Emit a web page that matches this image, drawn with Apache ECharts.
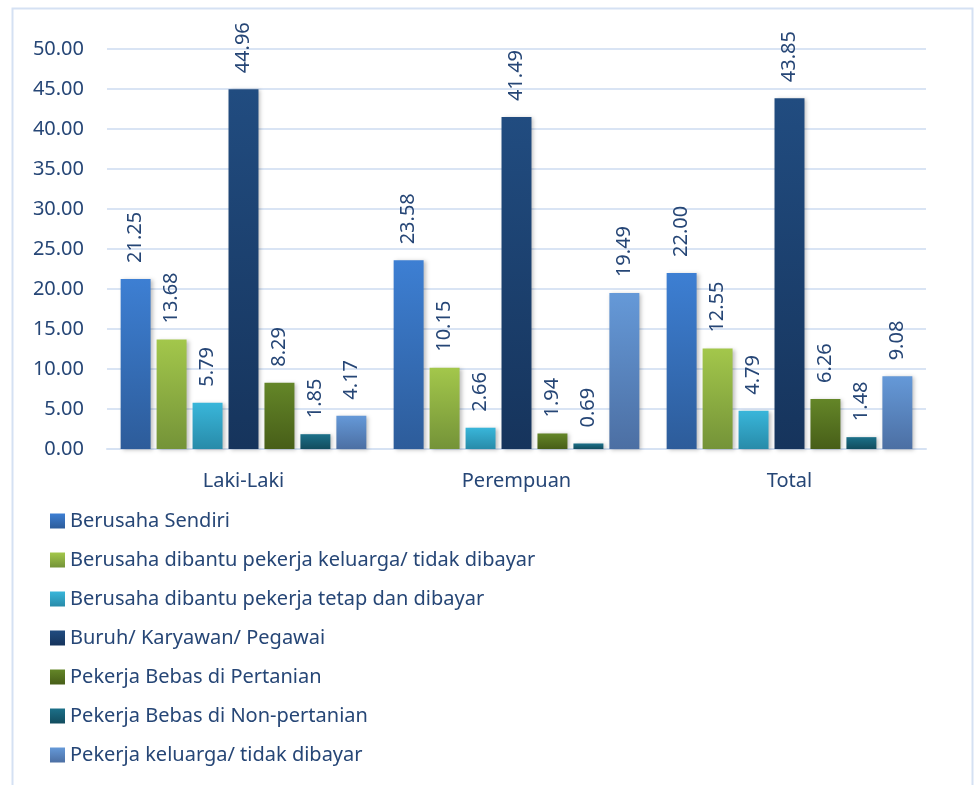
<!DOCTYPE html>
<html>
<head>
<meta charset="utf-8">
<script src="https://cdn.jsdelivr.net/npm/echarts@6/dist/echarts.min.js"></script>
<style>
	html, body { margin: 0; padding: 0; background: #fff; }
	#chart { width: 975px; height: 785px; }
</style>
</head>
<body>
<div id="chart"></div>
<script>
// kategori dan nilai
var categories = ['Laki-Laki', 'Perempuan', 'Total'];
var seriesNames = [
	'Berusaha Sendiri',
	'Berusaha dibantu pekerja keluarga/ tidak dibayar',
	'Berusaha dibantu pekerja tetap dan dibayar',
	'Buruh/ Karyawan/ Pegawai',
	'Pekerja Bebas di Pertanian',
	'Pekerja Bebas di Non-pertanian',
	'Pekerja keluarga/ tidak dibayar'
];
var berusahaSendiri = [21.25, 23.58, 22.00];
var dibantuKeluarga = [13.68, 10.15, 12.55];
var dibantuTetap = [5.79, 2.66, 4.79];
var buruh = [44.96, 41.49, 43.85];
var bebasPertanian = [8.29, 1.94, 6.26];
var bebasNonPertanian = [1.85, 0.69, 1.48];
var pekerjaKeluarga = [4.17, 19.49, 9.08];
var yTicks = [0, 5, 10, 15, 20, 25, 30, 35, 40, 45, 50];

var allValues = [berusahaSendiri, dibantuKeluarga, dibantuTetap, buruh, bebasPertanian, bebasNonPertanian, pekerjaKeluarga];
// warna atas / bawah gradien
var colorTop = ['#3d7fd3', '#a3c74b', '#39b6da', '#214c80', '#648628', '#1c7089', '#6599d8'];
var colorBottom = ['#2d5c9a', '#749338', '#288ba9', '#16345c', '#475e18', '#124c5e', '#4c6fa3'];

var textColor = '#264676';
var fontName = 'Noto Sans';

function grad(i) {
	return new echarts.graphic.LinearGradient(0, 0, 0, 1, [
		{ offset: 0, color: colorTop[i] },
		{ offset: 1, color: colorBottom[i] }
	]);
}

var series = [];
for (var i = 0; i < allValues.length; i++) {
	series.push({
		name: seriesNames[i],
		type: 'bar',
		data: allValues[i],
		barGap: '20%',
		barCategoryGap: '10%',
		itemStyle: {
			color: grad(i),
			shadowColor: 'rgba(0,0,0,0.25)',
			shadowBlur: 4,
			shadowOffsetX: 2,
			shadowOffsetY: 1
		},
		label: {
			show: true,
			position: 'top',
			rotate: 90,
			align: 'left',
			verticalAlign: 'middle',
			distance: 16,
			color: textColor,
			fontFamily: fontName,
			fontSize: 20,
			formatter: function(p) { return p.value.toFixed(2); }
		}
	});
}

var chart = echarts.init(document.getElementById('chart'));
var option = {
	animation: false,
	textStyle: { fontFamily: fontName },
	graphic: [{
		type: 'rect',
		shape: { x: 12.5, y: 8.5, width: 960, height: 800 },
		style: { fill: 'none', stroke: '#d5e1f3', lineWidth: 2 },
		silent: true
	}],
	grid: { left: 107, right: 49, top: 49, bottom: 336 },
	legend: {
		orient: 'vertical',
		left: 45,
		top: 506,
		itemWidth: 15,
		itemHeight: 15,
		itemGap: 19,
		icon: 'rect',
		data: seriesNames,
		textStyle: { color: textColor, fontSize: 20, lineHeight: 20, fontFamily: fontName }
	},
	xAxis: {
		type: 'category',
		data: categories,
		axisTick: { show: false },
		axisLine: { lineStyle: { color: '#d6e2f3', width: 2 } },
		axisLabel: { color: textColor, fontSize: 20, margin: 22, fontFamily: fontName }
	},
	yAxis: {
		type: 'value',
		min: yTicks[0],
		max: yTicks[yTicks.length - 1],
		interval: 5,
		axisLine: { show: false },
		axisTick: { show: false },
		splitLine: { lineStyle: { color: '#d9e4f4', width: 2 } },
		axisLabel: {
			color: textColor,
			fontSize: 20,
			margin: 23,
			fontFamily: fontName,
			formatter: function(v) { return v.toFixed(2); }
		}
	},
	series: series
};
chart.setOption(option);
</script>
</body>
</html>
